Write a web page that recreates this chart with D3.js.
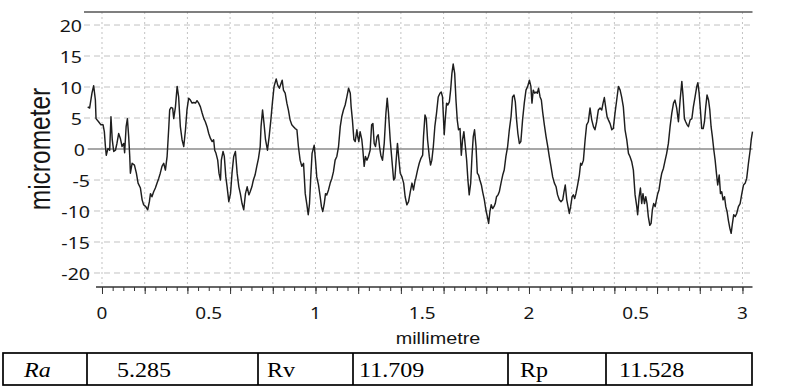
<!DOCTYPE html>
<html>
<head>
<meta charset="utf-8">
<script src="https://cdn.jsdelivr.net/npm/d3@7"></script>
<style>
  body { margin: 0; background: #fff; }
</style>
</head>
<body>
<svg id="chart" width="787" height="386"></svg>
<script>
// roughness profile: [position in mm, height in micrometer]
const profile = [
  [-0.067,6.8],[-0.058,6.6],[-0.047,9.0],[-0.039,10.2],[-0.031,7.9],[-0.028,4.9],[-0.016,4.4],[-0.005,3.9],[0.005,3.9],[0.011,2.8],
  [0.016,0.4],[0.020,-1.0],[0.028,0.1],[0.036,-0.2],[0.042,5.2],[0.048,1.5],[0.055,-0.4],[0.063,-0.2],[0.070,0.9],[0.078,2.5],
  [0.086,1.7],[0.094,0.4],[0.102,0.9],[0.106,-0.6],[0.113,3.6],[0.119,4.9],[0.125,2.0],[0.130,-1.2],[0.133,-3.9],[0.141,-2.3],
  [0.152,-2.6],[0.161,-3.9],[0.169,-5.5],[0.180,-6.3],[0.188,-8.2],[0.195,-9.0],[0.205,-9.3],[0.214,-9.8],[0.222,-8.5],[0.227,-7.2],
  [0.234,-7.7],[0.242,-6.9],[0.250,-6.3],[0.258,-5.5],[0.266,-4.7],[0.273,-3.9],[0.281,-2.8],[0.289,-2.3],[0.297,-3.4],[0.305,-1.2],
  [0.313,3.6],[0.317,6.3],[0.323,6.7],[0.331,6.6],[0.336,4.9],[0.344,6.8],[0.352,10.1],[0.359,8.4],[0.367,3.6],[0.375,1.5],
  [0.383,0.4],[0.391,3.1],[0.398,6.3],[0.406,8.2],[0.414,7.9],[0.422,7.4],[0.430,7.5],[0.438,7.4],[0.445,7.8],[0.453,7.4],
  [0.461,6.8],[0.469,5.8],[0.477,4.9],[0.484,4.4],[0.492,3.6],[0.500,2.5],[0.508,1.7],[0.516,1.2],[0.523,1.5],[0.528,-0.2],
  [0.534,-0.7],[0.542,-1.8],[0.548,-3.9],[0.555,-5.0],[0.559,-1.8],[0.567,-0.4],[0.573,-1.2],[0.580,-4.5],[0.586,-6.1],[0.594,-8.5],
  [0.602,-7.2],[0.609,-3.9],[0.617,-1.2],[0.625,-0.4],[0.633,-3.9],[0.641,-6.1],[0.648,-7.2],[0.656,-8.8],[0.664,-9.8],[0.672,-7.2],
  [0.680,-6.1],[0.688,-7.4],
  [0.694,-6.9],[0.702,-6.1],[0.709,-5.0],[0.717,-4.2],[0.725,-2.8],[0.733,-1.5],[0.741,0.4],[0.745,3.6],[0.752,6.3],[0.759,4.1],
  [0.766,1.5],[0.775,-0.2],[0.783,2.0],[0.791,4.7],[0.798,7.4],[0.806,10.1],[0.816,11.3],[0.823,10.3],[0.831,9.8],[0.839,10.6],
  [0.844,11.1],[0.850,9.5],[0.858,9.0],[0.866,7.4],[0.873,6.3],[0.881,4.7],[0.889,3.9],[0.897,3.6],[0.905,3.3],[0.913,3.1],
  [0.920,0.4],[0.928,-1.8],[0.936,-2.8],[0.944,-2.3],[0.952,-7.2],[0.959,-8.8],[0.966,-10.6],[0.972,-8.8],[0.978,-4.5],[0.984,-0.7],
  [0.994,0.6],[1.000,-1.8],[1.006,-4.5],[1.014,-5.8],[1.022,-7.7],[1.028,-9.3],[1.034,-10.1],[1.041,-8.8],[1.047,-7.2],[1.053,-7.4],
  [1.061,-6.6],[1.069,-5.5],[1.077,-4.7],[1.084,-3.7],[1.092,-1.8],[1.100,-1.2],[1.108,0.4],[1.116,3.6],[1.123,5.2],[1.131,6.3],
  [1.139,7.1],[1.147,8.4],[1.155,9.8],[1.163,9.0],[1.167,6.8],[1.173,4.7],[1.180,1.5],[1.186,1.2],[1.194,3.1],[1.198,2.0],
  [1.203,1.2],[1.209,2.8],[1.217,1.5],[1.222,-0.2],[1.228,-2.8],[1.234,-1.2],[1.241,-1.8],[1.248,-1.2],[1.256,-0.2],[1.263,3.9],
  [1.269,4.1],[1.275,0.9],[1.281,0.4],[1.288,2.0],[1.294,2.3],[1.300,0.4],[1.306,-1.0],[1.314,-1.8],[1.322,0.9],[1.330,5.8],
  [1.336,8.2],[1.342,5.8],[1.350,1.5],[1.358,-1.8],[1.366,-5.0],[1.372,-4.7],[1.378,-1.8],[1.384,0.9],[1.391,-1.8],[1.397,-3.9],
  [1.405,-4.5],[1.413,-5.5],[1.420,-7.7],[1.428,-9.0],[1.436,-8.5],[1.444,-6.9],[1.452,-5.5],[1.459,-6.6],[1.467,-5.0],
  [1.470,-4.7],[1.478,-3.4],[1.486,-2.3],[1.494,-1.5],[1.502,-1.0],[1.506,2.0],[1.513,5.5],[1.519,4.9],[1.525,1.5],[1.533,-1.2],
  [1.539,-2.6],[1.545,-1.8],[1.552,0.4],[1.559,3.6],[1.567,5.8],[1.575,8.4],[1.583,9.0],[1.589,9.2],[1.595,8.4],[1.603,2.3],
  [1.608,4.9],[1.614,7.4],[1.620,7.1],[1.627,7.6],[1.633,9.5],[1.639,12.2],[1.645,13.7],[1.652,12.2],[1.658,7.9],[1.664,4.7],
  [1.670,3.1],[1.677,3.3],[1.683,-1.0],[1.689,1.5],[1.695,2.8],[1.702,0.4],[1.708,-1.8],[1.714,-5.0],[1.720,-7.4],[1.727,-5.5],
  [1.733,-1.2],[1.739,2.0],[1.745,3.1],[1.752,0.4],[1.758,-3.9],[1.764,-4.2],[1.770,-5.0],[1.777,-5.8],[1.783,-6.9],[1.791,-8.2],
  [1.798,-9.8],[1.805,-10.9],[1.811,-12.0],[1.817,-10.1],[1.823,-9.0],[1.830,-9.6],[1.836,-9.3],[1.842,-8.8],[1.848,-7.7],[1.855,-7.4],
  [1.861,-6.9],[1.869,-5.5],[1.877,-4.2],[1.884,-3.4],[1.892,-1.2],[1.900,0.4],[1.908,3.1],[1.916,5.2],[1.923,8.4],[1.930,8.7],
  [1.936,7.6],[1.942,4.7],[1.948,2.5],[1.955,0.9],[1.962,1.2],[1.970,4.7],[1.978,7.4],[1.986,9.5],[1.994,10.1],[2.002,11.1],
  [2.009,10.1],[2.014,7.4],[2.020,9.5],[2.027,9.0],[2.033,9.2],[2.039,9.0],[2.045,9.8],[2.052,8.4],[2.058,7.9],[2.064,6.0],
  [2.072,3.9],[2.080,2.0],[2.088,0.4],[2.095,-1.2],[2.103,-2.8],[2.111,-4.5],[2.119,-5.5],[2.127,-6.1],[2.134,-7.4],[2.142,-8.2],
  [2.150,-8.5],[2.158,-8.2],[2.164,-6.9],[2.170,-5.8],[2.177,-8.2],[2.183,-9.3],[2.189,-10.4],[2.195,-9.3],[2.202,-7.7],[2.208,-7.4],
  [2.214,-8.0],[2.220,-7.2],[2.228,-5.8],[2.236,-4.2],[2.242,-2.3],
  [2.247,-2.6],[2.255,-1.8],[2.263,1.5],[2.270,3.9],[2.278,4.4],[2.286,6.6],[2.294,4.7],[2.302,3.6],[2.309,3.1],[2.317,4.4],
  [2.325,6.3],[2.333,6.6],[2.341,6.3],[2.347,7.4],[2.353,8.3],[2.359,6.8],[2.366,5.2],[2.372,4.7],[2.380,4.1],[2.388,3.1],
  [2.395,3.3],[2.403,5.8],[2.411,7.9],[2.419,10.1],[2.427,9.5],[2.434,8.4],[2.442,6.8],[2.450,3.1],[2.458,1.5],[2.466,-0.7],
  [2.473,-1.2],[2.481,-2.0],[2.489,-3.4],[2.497,-7.4],[2.505,-9.3],[2.509,-10.6],[2.516,-7.7],[2.522,-6.3],[2.528,-8.8],[2.534,-7.2],
  [2.541,-8.8],[2.547,-7.7],[2.553,-8.8],[2.559,-10.9],[2.566,-12.3],[2.572,-12.0],[2.578,-9.8],[2.584,-8.8],[2.591,-9.3],[2.597,-8.2],
  [2.603,-7.2],[2.609,-6.6],[2.616,-5.0],[2.622,-3.9],[2.630,-3.1],[2.638,-1.8],[2.645,-0.7],[2.653,0.9],[2.661,3.6],[2.669,5.8],
  [2.677,7.4],[2.684,7.9],[2.692,6.6],[2.700,4.4],[2.708,7.9],[2.716,10.9],[2.722,8.4],[2.728,4.9],[2.734,4.4],[2.741,3.9],
  [2.747,3.6],[2.755,4.7],[2.763,4.9],[2.770,6.8],[2.778,8.4],[2.786,10.1],[2.791,10.7],[2.797,9.0],[2.803,6.3],[2.809,3.3],
  [2.816,3.3],[2.822,4.4],[2.828,6.8],[2.834,8.7],[2.841,7.9],[2.847,6.3],[2.853,3.6],[2.859,2.0],[2.866,-0.2],[2.872,-1.8],
  [2.878,-3.9],[2.884,-5.8],[2.891,-4.2],[2.897,-7.2],[2.903,-6.9],[2.909,-8.2],[2.916,-7.7],[2.922,-9.3],[2.928,-10.1],[2.934,-11.5],
  [2.941,-12.8],[2.947,-13.6],[2.953,-12.0],[2.959,-10.6],[2.966,-10.9],[2.973,-10.4],[2.981,-9.3],[2.989,-8.8],[2.997,-7.2],[3.005,-5.8],
  [3.013,-5.5],[3.020,-4.7],[3.028,-2.3],[3.036,-0.2],[3.041,1.5],[3.047,2.8]
];

const yTicks = [20, 15, 10, 5, 0, -5, -10, -15, -20];
const xLabelValues = [0, 0.5, 1, 1.5, 2, 2.5, 3];
const xLabelText = ['0', '0.5', '1', '1.5', '2', '0.5', '3'];
const tableCells = ['Ra', '5.285', 'Rv', '11.709', 'Rp', '11.528'];

const gridX = d3.range(0, 16).map(i => +(i * 0.2).toFixed(2));
const minorX = d3.range(0, 61).map(i => +(i * 0.05).toFixed(2));

// the picture is squeezed sideways, so text gets a horizontal stretch
const SX = 1.15;

const svg = d3.select('#chart');

const x = d3.scaleLinear().domain([-0.0843, 3.047]).range([84, 752.5]);
const y = d3.scaleLinear().domain([-22.26, 22.1]).range([287, 12]);

const [plotLeft, plotRight] = x.range();
const [plotBottom, plotTop] = y.range();

// Grid
const grid = svg.append('g');
grid.selectAll('line.h')
  .data(yTicks.filter(d => d !== 0))
  .join('line')
  .attr('class', 'h')
  .attr('x1', plotLeft).attr('x2', plotRight)
  .attr('y1', d => y(d)).attr('y2', d => y(d))
  .attr('stroke', '#c2c2c2')
  .attr('stroke-dasharray', '6,4');

grid.selectAll('line.v')
  .data(gridX)
  .join('line')
  .attr('class', 'v')
  .attr('x1', d => x(d)).attr('x2', d => x(d))
  .attr('y1', plotTop).attr('y2', plotBottom)
  .attr('stroke', '#c2c2c2')
  .attr('stroke-dasharray', '2,3');

// Mean line
svg.append('line')
  .attr('x1', x(profile[0][0])).attr('x2', plotRight)
  .attr('y1', y(0)).attr('y2', y(0))
  .attr('stroke', '#8a8a8a')
  .attr('stroke-width', 1.6);

// Top frame line
svg.append('line')
  .attr('x1', plotLeft).attr('x2', plotRight)
  .attr('y1', plotTop).attr('y2', plotTop)
  .attr('stroke', '#555')
  .attr('stroke-width', 1.4);

// Profile
svg.append('path')
  .datum(profile)
  .attr('fill', 'none')
  .attr('stroke', '#1e1e1e')
  .attr('stroke-width', 1.45)
  .attr('stroke-linejoin', 'round')
  .attr('d', d3.line().x(d => x(d[0])).y(d => y(d[1])));

// X axis
const xAxis = svg.append('g').attr('transform', `translate(0,${plotBottom})`);
xAxis.append('g')
  .call(d3.axisBottom(x).tickValues(minorX).tickSize(4).tickFormat(''))
  .call(g => g.select('.domain').remove());
xAxis.append('g')
  .call(d3.axisBottom(x).tickValues(gridX).tickSize(7).tickFormat(''))
  .call(g => g.select('.domain').remove());
xAxis.selectAll('.tick line').attr('stroke', '#333');
xAxis.append('line')
  .attr('x1', x(-0.028)).attr('x2', plotRight)
  .attr('stroke', '#333')
  .attr('stroke-width', 1.3);

svg.append('g')
  .selectAll('text')
  .data(xLabelValues)
  .join('text')
  .attr('transform', d => `translate(${x(d)},318.5) scale(${SX},1)`)
  .attr('text-anchor', 'middle')
  .attr('font-family', '"Noto Sans", sans-serif')
  .attr('font-size', 16.5)
  .attr('fill', '#151515')
  .text((d, i) => xLabelText[i]);

// Y labels
svg.append('g')
  .selectAll('text')
  .data(yTicks)
  .join('text')
  .attr('transform', d => `translate(${d < 0 ? 90 : d === 0 ? 85 : 82},${y(d) + 1}) scale(${SX},1)`)
  .attr('dy', '0.36em')
  .attr('text-anchor', 'end')
  .attr('font-family', '"Noto Sans", sans-serif')
  .attr('font-size', 17)
  .attr('fill', '#151515')
  .text(d => String(d));

// Axis titles
svg.append('text')
  .attr('transform', `translate(438,344) scale(1.2,1)`)
  .attr('text-anchor', 'middle')
  .attr('font-family', '"Liberation Sans", Arial, sans-serif')
  .attr('font-size', 16.5)
  .attr('fill', '#151515')
  .text('millimetre');

svg.append('text')
  .attr('transform', `translate(50,${y(0)}) scale(1.2,1) rotate(-90)`)
  .attr('text-anchor', 'middle')
  .attr('font-family', '"Liberation Sans", Arial, sans-serif')
  .attr('font-size', 24.5)
  .attr('fill', '#151515')
  .text('micrometer');

// Parameter table
const cellEdges = [3, 87, 258, 353, 508, 606, 752];
const cellPad = [21, 30, 9, 6, 12, 13];
const tableTop = 353, tableBottom = 385;
const table = svg.append('g');
table.append('rect')
  .attr('x', cellEdges[0]).attr('y', tableTop)
  .attr('width', cellEdges[cellEdges.length - 1] - cellEdges[0])
  .attr('height', tableBottom - tableTop)
  .attr('fill', 'none')
  .attr('stroke', '#000')
  .attr('stroke-width', 1.7);
table.selectAll('line')
  .data(cellEdges.slice(1, -1))
  .join('line')
  .attr('x1', d => d).attr('x2', d => d)
  .attr('y1', tableTop).attr('y2', tableBottom)
  .attr('stroke', '#000')
  .attr('stroke-width', 1.7);
table.selectAll('text')
  .data(tableCells)
  .join('text')
  .attr('transform', (d, i) => `translate(${cellEdges[i] + cellPad[i]},377) scale(1.12,1)`)
  .attr('font-family', '"Liberation Serif", "Times New Roman", serif')
  .attr('font-size', 21.5)
  .attr('font-style', (d, i) => i === 0 ? 'italic' : 'normal')
  .attr('fill', '#000')
  .text(d => d);
</script>
</body>
</html>
